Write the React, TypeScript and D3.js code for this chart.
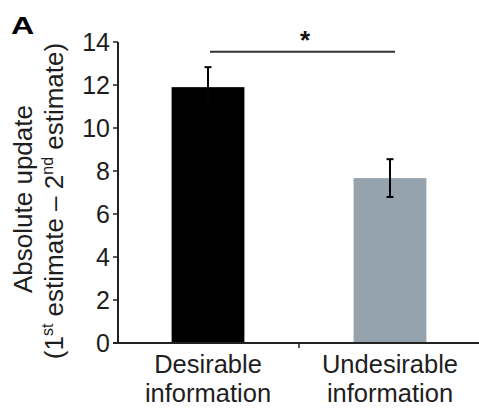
import React from "react";
import * as d3 from "d3";

const categories = ["Desirable", "Undesirable"];
const categoryLine2 = ["information", "information"];
const values = [11.9, 7.67];
const errors = [0.93, 0.88];
const barColors = ["#000000", "#95a3ae"];
const yTicks = [0, 2, 4, 6, 8, 10, 12, 14];
const sigLevel = 13.55;

const W = 479;
const H = 410;
const FONT = "'Liberation Sans', Arial, Helvetica, sans-serif";

export default function App() {
  const x = d3.scaleBand<string>().domain(categories).range([117, 481]).paddingInner(0.6).paddingOuter(0.3);
  const y = d3.scaleLinear().domain([0, 14]).range([343, 42]);
  const axisX = 118;
  const textColor = "#1e1e1e";
  const cx = (c: string) => (x(c) as number) + x.bandwidth() / 2;
  const midTick = (cx(categories[0]) + cx(categories[1])) / 2;

  return (
    <svg width={W} height={H} style={{ position: "absolute", left: 0, top: 0, background: "#fff" }} fontFamily={FONT}>
      <text x={11} y={34} fontSize={23} fontWeight="bold" fill="#000" transform="translate(11,34) scale(1.4,1) translate(-11,-34)">A</text>

      {/* y label */}
      <g transform={`translate(32, 199) rotate(-90)`}>
        <text textAnchor="middle" fontSize={26} fill={textColor}>Absolute update</text>
      </g>
      <g transform={`translate(63, 201) rotate(-90)`}>
        <text textAnchor="middle" fontSize={26} fill={textColor}>
          (1<tspan fontSize={16} dy={-10}>st</tspan>
          <tspan dy={10}> estimate – 2</tspan>
          <tspan fontSize={16} dy={-10}>nd</tspan>
          <tspan dy={10}> estimate)</tspan>
        </text>
      </g>

      {/* bars */}
      {categories.map((c, i) => (
        <rect key={c} x={x(c)} y={y(values[i])} width={x.bandwidth()} height={y(0) - y(values[i])} fill={barColors[i]} />
      ))}

      {/* error bars */}
      {categories.map((c, i) => {
        const xc = cx(c);
        const top = y(values[i] + errors[i]);
        const bot = y(values[i] - errors[i]);
        return (
          <g key={"e" + c} stroke="#020304" strokeWidth={2}>
            <line x1={xc} x2={xc} y1={top} y2={bot} />
            <line x1={xc - 3.5} x2={xc + 3.5} y1={top} y2={top} />
            <line x1={xc - 3.5} x2={xc + 3.5} y1={bot} y2={bot} />
          </g>
        );
      })}

      {/* y axis */}
      <line x1={axisX} x2={axisX} y1={y(14)} y2={y(0)} stroke="#222" strokeWidth={2} />
      {yTicks.map((t) => (
        <g key={t}>
          <line x1={axisX - 5} x2={axisX} y1={y(t)} y2={y(t)} stroke="#222" strokeWidth={1.5} />
          <text x={110} y={y(t)} dy="0.36em" textAnchor="end" fontSize={25} fill={textColor}>{t}</text>
        </g>
      ))}

      {/* x axis */}
      <line x1={axisX - 5} x2={W} y1={y(0)} y2={y(0)} stroke="#222" strokeWidth={2} />
      <line x1={midTick} x2={midTick} y1={y(0)} y2={y(0) + 5} stroke="#222" strokeWidth={1.5} />
      {categories.map((c, i) => (
        <g key={"l" + c}>
          <text x={cx(c)} y={373} textAnchor="middle" fontSize={25.5} fill={textColor}>{c}</text>
          <text x={cx(c)} y={402} textAnchor="middle" fontSize={25.5} fill={textColor}>{categoryLine2[i]}</text>
        </g>
      ))}

      {/* significance */}
      <line x1={cx(categories[0]) + 2} x2={cx(categories[1]) + 5} y1={y(sigLevel)} y2={y(sigLevel)} stroke="#333" strokeWidth={2} />
      <text x={midTick + 6} y={y(sigLevel) - 3} textAnchor="middle" fontSize={26} fontWeight="bold" fill="#111">*</text>
    </svg>
  );
}
